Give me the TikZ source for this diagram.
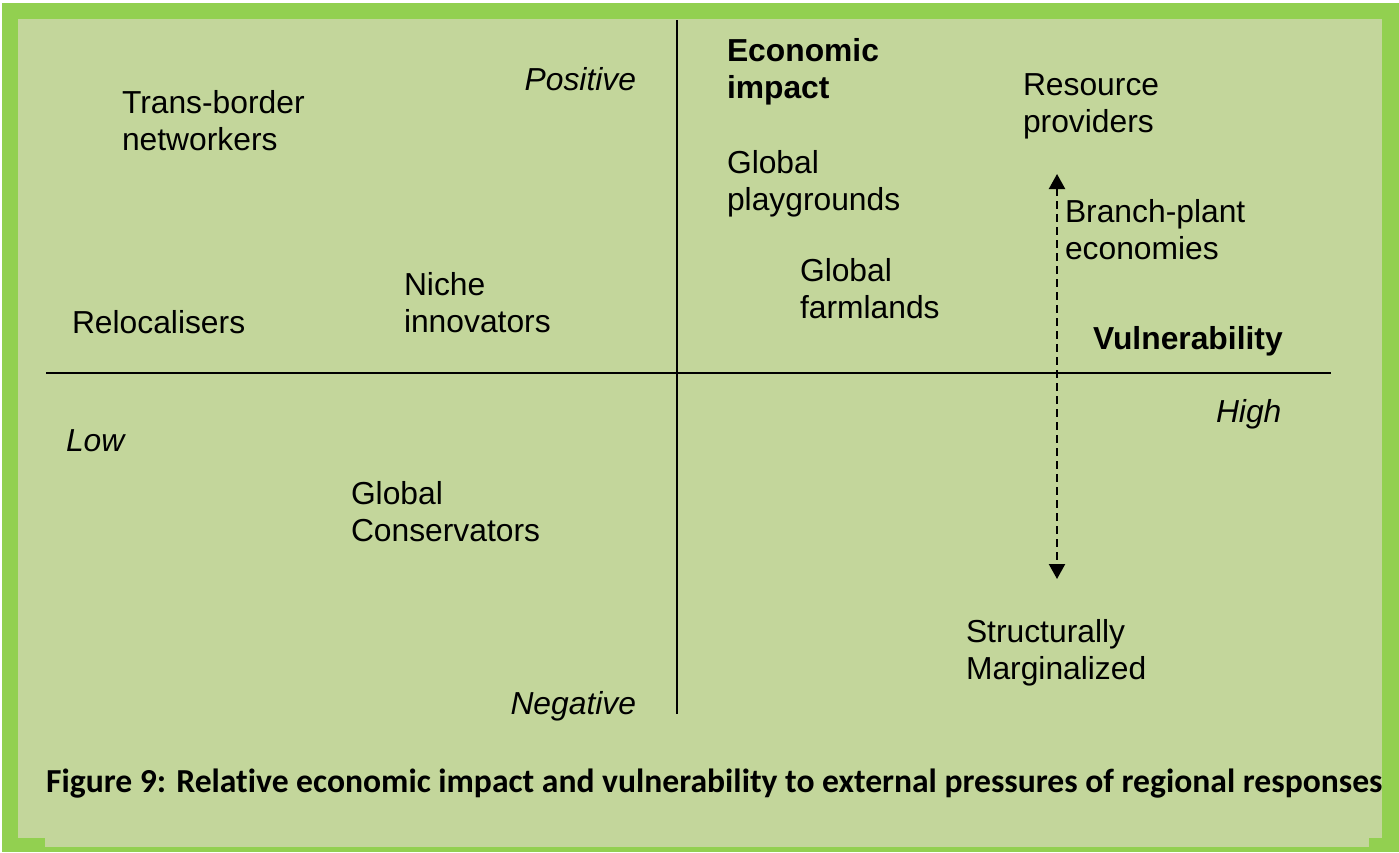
\documentclass[tikz,border=0pt]{standalone}
\usepackage{fontspec}
\setmainfont{Liberation Sans}
\newfontfamily\capfont[Ligatures=NoCommon,RawFeature=-liga]{Carlito}
\usetikzlibrary{arrows.meta}
\definecolor{framegreen}{HTML}{92D050}
\definecolor{panelgreen}{HTML}{C3D69B}
\newcommand{\twoline}[2]{\vtop{\hbox{#1}\hbox{#2}}}
\tikzset{
  lbl/.style={anchor=base west, inner sep=0pt, outer sep=0pt, text=black,
    font=\fontsize{31.8}{37.5}\selectfont},
  lblr/.style={lbl, anchor=base east},
  axis/.style={draw=black, line width=2pt},
  dasharrow/.style={draw=black, line width=2.2pt, dash pattern=on 8pt off 5pt,
    {Triangle[width=16pt,length=15pt]}-{Triangle[width=16pt,length=15pt]}},
  captxt/.style={anchor=base west, inner sep=0pt, text=black,
    font=\capfont\bfseries\fontsize{33.6}{40}\selectfont}
}
\begin{document}
\begin{tikzpicture}[x=1pt,y=-1pt]
\useasboundingbox (0,0) rectangle (1399,852);
\fill[white] (0,0) rectangle (1399,852);
\fill[framegreen] (2,3) rectangle (1399,852);
\fill[panelgreen] (18,19) rectangle (1382,838);
\fill[panelgreen] (45,838) rectangle (1369,847);

% axes
\coordinate (vtop) at (677,20);
\coordinate (vbot) at (677,714);
\coordinate (hl) at (46,372.5);
\coordinate (hr) at (1331,372.5);
\draw[axis] (vtop) -- (vbot);
\draw[axis] (hl) -- (hr);

% dashed double arrow
\coordinate (atop) at (1057,174);
\coordinate (abot) at (1057,579);
\draw[dasharrow] (atop) -- (abot);

% labels
\node[lbl] (trans) at (122,113) {\twoline{Trans-border}{networkers}};
\node[lblr] (pos) at (636,90) {\itshape Positive};
\node[lbl] (econ) at (727,61) {\bfseries\twoline{Economic}{impact}};
\node[lbl] (res) at (1023,95) {\twoline{Resource}{providers}};
\node[lbl] (play) at (727,173) {\twoline{Global}{playgrounds}};
\node[lbl] (branch) at (1065,222) {\twoline{Branch-plant}{economies}};
\node[lbl] (farm) at (800,281) {\twoline{Global}{farmlands}};
\node[lbl] (niche) at (404,295) {\twoline{Niche}{innovators}};
\node[lbl] (reloc) at (72,333) {Relocalisers};
\node[lbl] (vuln) at (1093,349) {\bfseries Vulnerability};
\node[lbl] (high) at (1216,422) {\itshape High};
\node[lbl] (low) at (66,451) {\itshape Low};
\node[lbl] (cons) at (351,504) {\twoline{Global}{Conservators}};
\node[lbl] (marg) at (966,642) {\twoline{Structurally}{Marginalized}};
\node[lblr] (neg) at (636,714) {\itshape Negative};

\node[captxt] (cap) at (46,792) {Figure 9: Relative economic impact and vulnerability to external pressures of regional responses};
\end{tikzpicture}
\end{document}
